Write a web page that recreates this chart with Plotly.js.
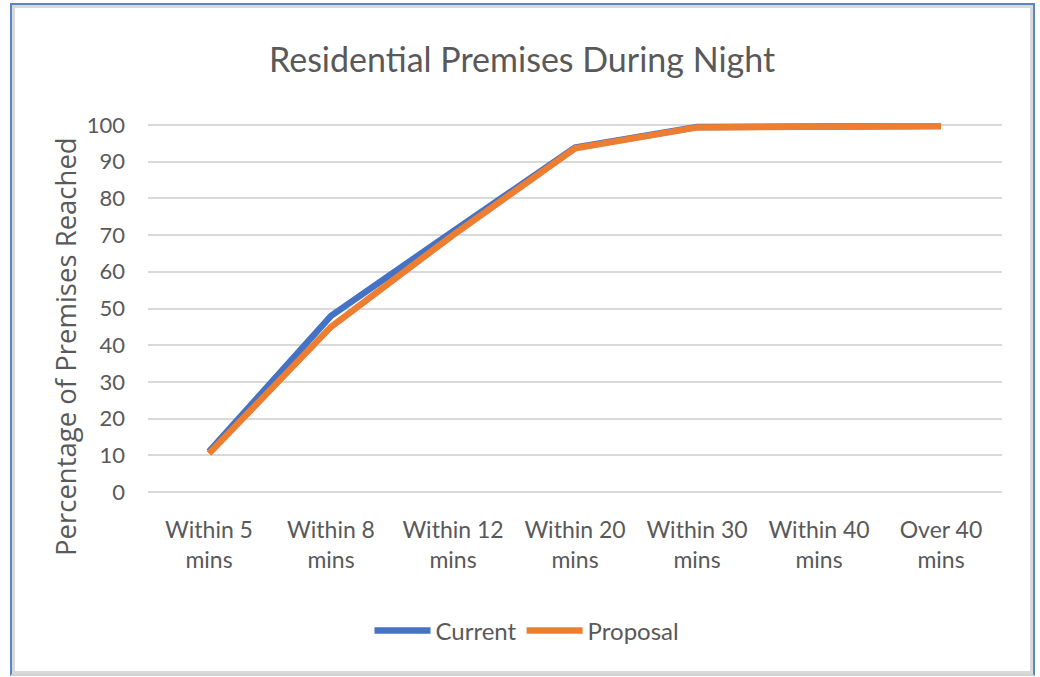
<!DOCTYPE html>
<html>
<head>
<meta charset="utf-8">
<script src="https://cdn.plot.ly/plotly-3.0.1.min.js"></script>
<style>
html,body{margin:0;padding:0;background:#fff;}
#wrap{position:relative;width:1040px;height:677px;}
#chart{width:1040px;height:677px;}
#frame{position:absolute;left:10px;top:3px;width:1021px;height:669px;border-top:2px solid #5a86c6;border-left:2px solid #5a86c6;border-right:2px solid #5a86c6;border-bottom:2px solid #d0d0d0;box-shadow:inset 3px 3px 0 #d9d9d9, inset -3px -3px 0 #d9d9d9;pointer-events:none;}
</style>
</head>
<body>
<div id="wrap">
<div id="chart"></div>
<div id="frame"></div>
</div>
<script>
const categories = ["Within 5<br>mins", "Within 8<br>mins", "Within 12<br>mins", "Within 20<br>mins", "Within 30<br>mins", "Within 40<br>mins", "Over 40<br>mins"];
const currentValues = [11, 48, 71, 93.8, 99.4, 99.6, 99.7];
const proposalValues = [10.5, 45, 70, 93.6, 99.3, 99.6, 99.7];
const yTicks = [0, 10, 20, 30, 40, 50, 60, 70, 80, 90, 100];
const chartTitle = "Residential Premises During Night";
const yTitle = "Percentage of Premises Reached";

const FONT = "Lato, Carlito, Calibri, sans-serif";
const GRAY = "#595959";

const traces = [
  {x: categories, y: currentValues, name: "Current", type: "scatter", mode: "lines",
   line: {color: "#4472C4", width: 6.5}},
  {x: categories, y: proposalValues, name: "Proposal", type: "scatter", mode: "lines",
   line: {color: "#ED7D31", width: 6.5}}
];

const layout = {
  width: 1040, height: 677,
  margin: {l: 148, r: 38, t: 123, b: 183},
  paper_bgcolor: "#fff", plot_bgcolor: "#fff",
  font: {family: FONT, color: GRAY, size: 23},
  title: {text: chartTitle, font: {family: FONT, size: 34, color: GRAY},
          x: 0.502, xref: "container", y: 1 - 60/677, yref: "container", yanchor: "middle", xanchor: "center"},
  showlegend: true,
  legend: {orientation: "h", xref: "container", yref: "container", x: 527/1040, y: 1 - 631/677,
           xanchor: "center", yanchor: "middle", font: {family: FONT, size: 24, color: GRAY},
           itemwidth: 56, tracegroupgap: 0},
  xaxis: {type: "category", range: [-0.5, 6.5], showgrid: false, zeroline: false, showline: false,
          ticks: "", ticklabelstandoff: 20, tickfont: {family: FONT, size: 23, color: GRAY}, fixedrange: true},
  yaxis: {range: [-0.5, 100.5], tickvals: yTicks, ticktext: yTicks.map(String), showgrid: true,
          gridcolor: "#d9d9d9", gridwidth: 2, zeroline: false, showline: false, ticks: "",
          ticklabelstandoff: 22, tickfont: {family: FONT, size: 22, color: GRAY}, fixedrange: true},
  annotations: [{text: yTitle, xref: "paper", yref: "paper", x: (65-148)/854, y: (494-347)/371,
                 xanchor: "center", yanchor: "middle", textangle: -90, showarrow: false,
                 font: {family: "'Open Sans', sans-serif", size: 27.5, color: GRAY}}]
};

Plotly.newPlot("chart", traces, layout, {displayModeBar: false, staticPlot: true});
</script>
</body>
</html>
